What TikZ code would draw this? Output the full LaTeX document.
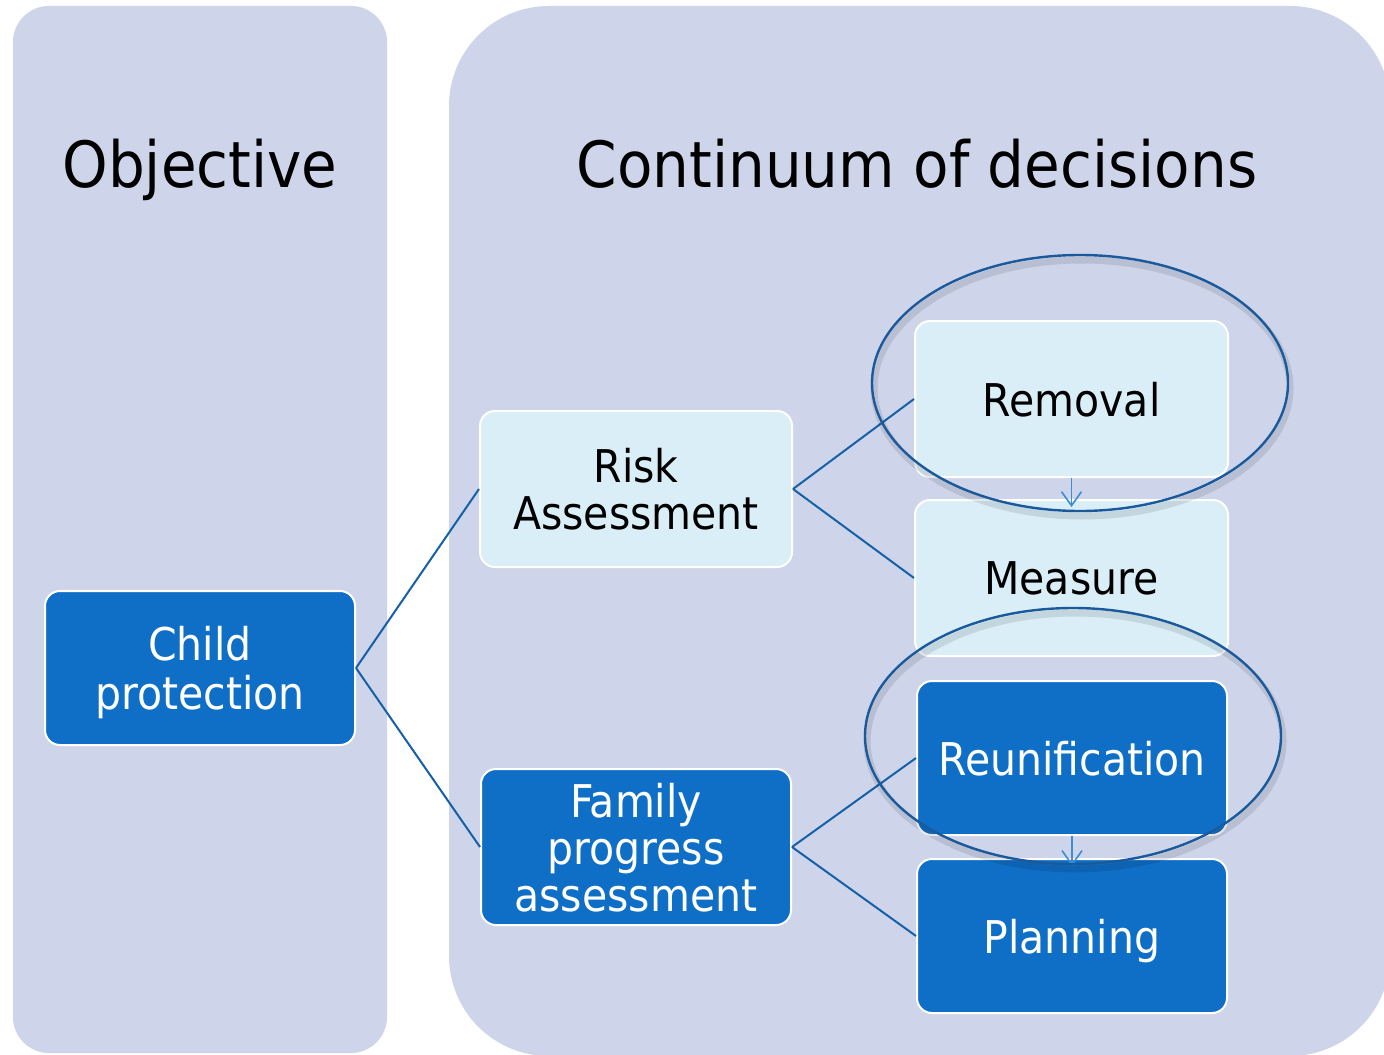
\documentclass[tikz,border=0pt]{standalone}
\usepackage{graphicx}
\usepackage{fontspec}
\setmainfont{DejaVu Sans}
\usetikzlibrary{arrows.meta,calc,shapes.geometric}
\definecolor{panelc}{HTML}{CED5EA}
\definecolor{lightc}{HTML}{DAEEF7}
\definecolor{darkc}{HTML}{0F6FC6}
\definecolor{connc}{HTML}{1560A6}
\definecolor{arrowc}{HTML}{3C8CD6}
\definecolor{ringc}{HTML}{1A5A9C}
\newcommand\tallbox[1]{\scalebox{1}[1.1]{\begin{tabular}[b]{@{}c@{}}#1\end{tabular}}}
\begin{document}
\begin{tikzpicture}[x=0.5pt,y=-0.5pt,
  box/.style={draw=white, line width=1pt, rounded corners=7.5pt, minimum width=155pt, minimum height=77.5pt, align=center, font=\fontsize{20.5}{21.4}\selectfont, inner sep=2pt, text depth=0pt},
  lightbox/.style={box, fill=lightc, text=black},
  darkbox/.style={box, fill=darkc, text=white},
  conn/.style={draw=connc, line width=1pt},
  seq/.style={draw=arrowc, line width=0.8pt, -{Straight Barb[length=7pt,width=10pt]}, shorten >=-4pt},
  ring/.style={ellipse, draw=ringc, line width=1.2pt, minimum width=208pt, minimum height=128pt, inner sep=0pt},
  ringshadow/.style={ellipse, draw=black, draw opacity=0.10, line width=3.5pt, minimum width=208pt, minimum height=128pt, inner sep=0pt},
  title/.style={anchor=base, font=\fontsize{29}{34}\selectfont, text=black}
]
\useasboundingbox (0,0) rectangle (1384,1054);
\fill[white] (0,0) rectangle (1384,1054);
% panels
\fill[panelc, rounded corners=18pt] (13,6) rectangle (387,1053);
\fill[panelc, rounded corners=50pt] (449,6) rectangle (1390,1056);
% titles
\node[title] (objt) at (200,187) {\scalebox{1}[1.1]{Objective}};
\node[title] (cont) at (917,187) {\scalebox{1}[1.1]{Continuum of decisions}};
% boxes
\node[darkbox, minimum width=155pt, minimum height=77pt] (child) at (200,668) {\tallbox{Child\\protection}};
\node[lightbox, minimum width=156pt, minimum height=78pt] (risk) at (636,489) {\tallbox{Risk\\Assessment}};
\node[darkbox, minimum width=155pt, minimum height=78pt] (family) at (636,847) {\tallbox{Family\\progress\\assessment}};
\node[lightbox, minimum width=156.5pt, minimum height=78pt] (removal) at (1071.5,399) {\tallbox{Removal}};
\node[lightbox, minimum width=156.5pt, minimum height=78pt] (measure) at (1071.5,578) {\tallbox{Measure}};
\node[darkbox, minimum width=155pt, minimum height=77pt] (reunif) at (1072,758) {\tallbox{Reunification}};
\node[darkbox, minimum width=155pt, minimum height=77pt] (planning) at (1072,936) {\tallbox{Planning}};
% connectors
\draw[conn] (child.east) -- (risk.west);
\draw[conn] (child.east) -- (family.west);
\draw[conn] (risk.east) -- (removal.west);
\draw[conn] (risk.east) -- (measure.west);
\draw[conn] (family.east) -- (reunif.west);
\draw[conn] (family.east) -- (planning.west);
\draw[seq] (removal.south) -- (measure.north);
\draw[seq] (reunif.south) -- (planning.north);
% rings
\node[ringshadow] (ring1s) at (1082,388) {};
\node[ring] (ring1) at (1080,383) {};
\node[ringshadow] (ring2s) at (1075,741) {};
\node[ring] (ring2) at (1073,736) {};
\end{tikzpicture}
\end{document}
